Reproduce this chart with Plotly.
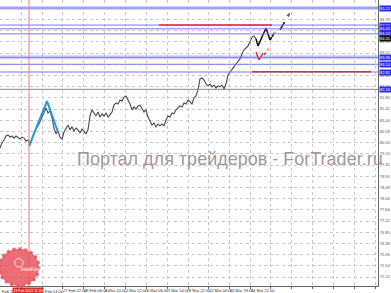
import plotly.graph_objects as go

# ---------------- data ----------------
bar_x = list(range(0, 258, 2))
price = [79.96, 80.15, 80.26, 80.41, 80.45, 80.37, 80.41, 80.33, 80.41, 80.37,
         80.30, 80.37, 80.33, 80.22, 80.26, 80.07, 80.33, 80.52, 80.71, 80.79,
         80.94, 81.12, 81.31, 81.46, 81.27, 81.35, 81.09, 80.71, 80.49, 80.60,
         80.37, 80.30, 80.56, 80.71, 80.82, 80.64, 80.75, 80.60, 80.71, 80.64,
         80.52, 80.67, 80.56, 80.49, 80.64, 81.16, 81.39, 81.27, 81.16, 81.31,
         81.12, 81.24, 81.16, 81.27, 81.12, 81.20, 81.31, 81.57, 81.65, 81.61,
         81.76, 81.72, 81.87, 81.91, 81.76, 81.61, 81.39, 81.50, 81.42, 81.54,
         81.57, 81.46, 81.31, 81.39, 81.12, 80.97, 80.82, 80.90, 80.75, 80.86,
         80.79, 80.86, 80.79, 81.01, 81.16, 81.12, 81.27, 81.24, 81.39, 81.46,
         81.54, 81.50, 81.65, 81.61, 81.76, 81.69, 81.61, 81.84, 81.91, 82.14,
         82.55, 82.59, 82.51, 82.36, 82.29, 82.36, 82.25, 82.32, 82.21, 82.29,
         82.25, 82.32, 82.17, 82.36, 82.70, 82.81, 82.89, 83.00, 83.11, 83.22,
         83.30, 83.49, 83.64, 83.71, 83.79, 83.94, 84.12, 84.16, 84.05]

blue_levels = [85.21, 84.57, 84.43, 84.24, 83.36, 83.10, 82.81, 82.16]
blue_labels = ["85.21", "84.57", "84.43", "84.24", "83.36", "83.10", "82.81", "82.16"]
blue_bold = [True, False, False, False, True, False, False, False]
last_price = 84.05

red_levels = [84.57, 82.82]
red_x0 = [159, 252]
red_x1 = [272, 371]

vline_x = 29
vline_label = "24 Feb 2022 11:00"

wave_x = [29, 47, 58]
wave_y = [80.03, 81.72, 80.56]

black_x = [256, 258, 266, 270, 275]
black_y = [84.05, 83.79, 84.46, 84.01, 84.31]
black_dash_x = [280, 291]
black_dash_y = [84.39, 85.10]

red_path_x = [256, 259, 263]
red_path_y = [83.56, 83.26, 83.52]
red_dash_x = [264, 270]
red_dash_y = [83.45, 83.75]

grid_x = [21, 42, 62, 83, 104, 125, 146, 167, 188, 208, 229, 250, 270, 291, 312, 333, 354, 375]
grid_text = ["", "", "27 Feb 22:00", "28 Feb 06:00", "1 Mar 14:00", "2 Mar 22:00",
             "6 Mar 06:00", "7 Mar 14:00", "8 Mar 22:00", "12 Mar 06:00",
             "13 Mar 18:00", "14 Mar 22:00", "", "", "", "", "", ""]
extra_x_labels = ["Feb 22:00", "Feb 14:00"]
extra_x_pos = [0, 43]

y_tick0 = 74.70
y_step = 0.42
y_top = 85.51
y_bottom = 74.785

watermark = "Портал для трейдеров - ForTrader.ru"
logo_text = "InstaForex"

# ---------------- figure ----------------
fig = go.Figure()

fig.add_trace(go.Scatter(x=bar_x, y=price, mode="lines",
                         line=dict(color="#4a4a4a", width=1.1), hoverinfo="skip"))
fig.add_trace(go.Scatter(x=wave_x, y=wave_y, mode="lines",
                         line=dict(color="#1e9be0", width=2)))
fig.add_trace(go.Scatter(x=black_x, y=black_y, mode="lines+markers",
                         line=dict(color="#111111", width=1.5),
                         marker=dict(symbol=["circle"] * (len(black_x) - 1) + ["arrow"],
                                     size=[0] * (len(black_x) - 1) + [6],
                                     angleref="previous", color="#111111")))
fig.add_trace(go.Scatter(x=black_dash_x, y=black_dash_y, mode="lines+markers",
                         line=dict(color="#111111", width=1.5, dash="dash"),
                         marker=dict(symbol=["circle", "arrow"], size=[0, 7],
                                     angleref="previous", color="#111111")))
fig.add_trace(go.Scatter(x=red_path_x, y=red_path_y, mode="lines",
                         line=dict(color="#e02020", width=1.3)))
fig.add_trace(go.Scatter(x=red_dash_x, y=red_dash_y, mode="lines+markers",
                         line=dict(color="#e02020", width=1.3, dash="dot"),
                         marker=dict(symbol=["circle", "arrow"], size=[0, 5],
                                     angleref="previous", color="#e02020")))

shapes = []
annotations = []
# blue horizontal levels
for lv, lab, bold in zip(blue_levels, blue_labels, blue_bold):
    if bold:
        shapes.append(dict(type="line", xref="paper", yref="y", x0=0, x1=1, y0=lv, y1=lv,
                           line=dict(color="rgba(150,150,255,0.45)", width=4), layer="below"))
    shapes.append(dict(type="line", xref="paper", yref="y", x0=0, x1=1, y0=lv, y1=lv,
                       line=dict(color="#7878ff", width=1)))
    annotations.append(dict(x=1, xref="paper", y=lv, yref="y", xanchor="left", yanchor="middle",
                            text=lab, showarrow=False, bgcolor="#2a2af0", borderpad=0,
                            font=dict(size=4, color="white", family="Liberation Sans"),
                            xshift=1))
annotations.append(dict(x=1, xref="paper", y=last_price, yref="y", xanchor="left", yanchor="middle",
                        text=f"{last_price:.2f}", showarrow=False, bgcolor="#111111", borderpad=0,
                        font=dict(size=4, color="white", family="Liberation Sans"), xshift=1))
# red segments
for lv, a, b in zip(red_levels, red_x0, red_x1):
    shapes.append(dict(type="line", xref="x", yref="y", x0=a, x1=b, y0=lv, y1=lv,
                       line=dict(color="#e03030", width=1.5)))
# vertical red line
shapes.append(dict(type="line", xref="x", yref="paper", x0=vline_x, x1=vline_x, y0=0, y1=1,
                   line=dict(color="#f07878", width=1)))
# logo
shapes.append(dict(type="circle", xref="paper", yref="paper", x0=-0.003, x1=0.103, y0=0.0, y1=0.13,
                   fillcolor="rgba(232,84,94,0.85)", line=dict(color="rgba(232,84,94,0.85)", width=3, dash="dot"),
                   layer="above"))
shapes.append(dict(type="circle", xref="paper", yref="paper", x0=0.039, x1=0.061, y0=0.066, y1=0.096,
                   line=dict(color="rgba(255,255,255,0.8)", width=1), layer="above"))
annotations.append(dict(x=0.05, xref="paper", y=0.042, yref="paper", text=logo_text, showarrow=False,
                        font=dict(size=4.5, color="white", family="Liberation Sans")))
# x labels drawn over the axis strip
for t, px in zip(extra_x_labels, extra_x_pos):
    annotations.append(dict(x=px, xref="x", y=0, yref="paper", yanchor="top", xanchor="left",
                            text=t, showarrow=False,
                            font=dict(size=4, color="#333", family="Liberation Sans"), yshift=-1))
annotations.append(dict(x=vline_x - 1, xref="x", y=0, yref="paper", yanchor="top", xanchor="center",
                        text=vline_label, showarrow=False, bgcolor="#e02828", borderpad=0.5,
                        font=dict(size=3.5, color="white", family="Liberation Sans"), yshift=-0.5))
# watermark
annotations.append(dict(x=75 / 378, xref="paper", y=0.443, yref="paper", xanchor="left", yanchor="middle",
                        text=watermark, showarrow=False,
                        font=dict(size=18, color="rgba(150,138,140,0.9)", family="Liberation Sans")))

fig.update_layout(
    width=391, height=293, margin=dict(l=0, r=13, t=0, b=7, autoexpand=False),
    paper_bgcolor="white", plot_bgcolor="white", showlegend=False,
    shapes=shapes, annotations=annotations,
    xaxis=dict(range=[0, 378], tickmode="array", tickvals=grid_x, ticktext=grid_text,
               ticklabelposition="outside right", tickangle=0, automargin=False,
               showgrid=True, gridcolor="#c8c8c8", griddash="dot",
               gridwidth=1, zeroline=False, showline=True, linecolor="#666", linewidth=1,
               ticks="outside", ticklen=2, tickcolor="#666",
               tickfont=dict(size=4, color="#333", family="Liberation Sans")),
    yaxis=dict(range=[y_bottom, y_top], side="right", tick0=y_tick0, dtick=y_step, tickformat=".2f",
               automargin=False,
               showgrid=True, gridcolor="#c8c8c8", griddash="dot", gridwidth=1, zeroline=False,
               showline=True, linecolor="#666", linewidth=1, ticks="", ticklen=0,
               tickfont=dict(size=4, color="#555", family="Liberation Sans")),
)

fig.write_html("out.html")
